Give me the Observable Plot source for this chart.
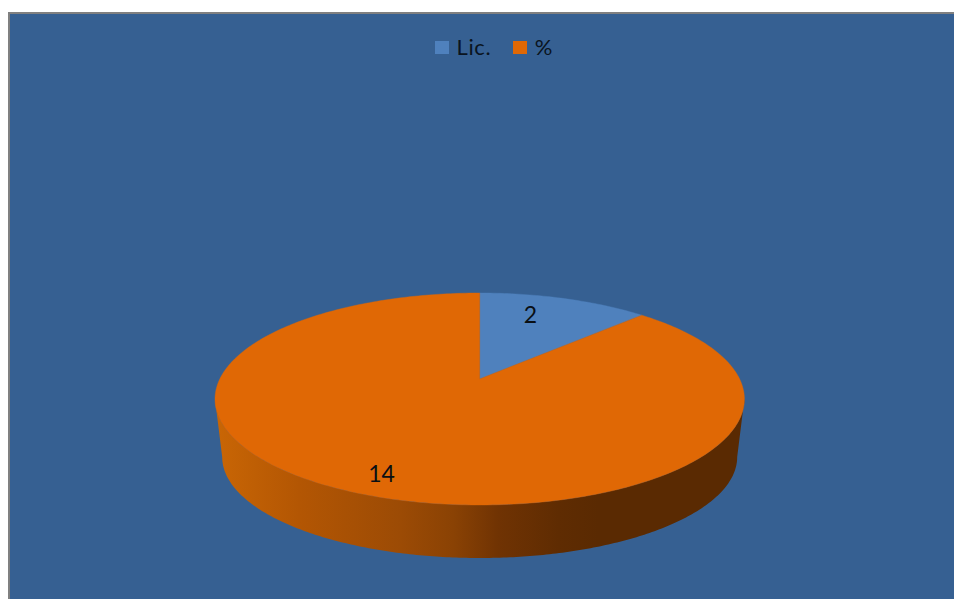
<!DOCTYPE html>
<html>
<head>
<meta charset="utf-8">
<script src="https://cdn.jsdelivr.net/npm/d3@7"></script>
<script src="https://cdn.jsdelivr.net/npm/@observablehq/plot@0.6"></script>
<style>
  html, body { margin: 0; padding: 0; background: #fff; }
  #chart { position: relative; width: 954px; height: 599px; overflow: hidden; }
  #chart svg { display: block; }
  #legend {
    position: absolute; left: 434.5px; top: 34px; display: flex; align-items: center;
    font: 22px Lato, sans-serif; letter-spacing: 0.6px; color: #0a1420; line-height: 26px;
  }
  #legend i { display: inline-block; width: 14.5px; height: 13px; margin-right: 7.5px; }
  #legend span { display: inline-flex; align-items: center; width: 78.2px; }
</style>
</head>
<body>
<div id="chart">
  <div id="legend"></div>
</div>
<script>
// Slices, clockwise from twelve o'clock
const categories = ["Lic.", "%"];
const values = [2, 14];
const sliceColors = ["#4F81BD", "#E06805"];

// Colour of the cylinder wall, running left to right across the disc
const wallStops = [-1, -0.68, -0.3, -0.1, 0.07, 0.3, 0.45, 1];
const wallShades = ["#C96605", "#B35603", "#9C4B05", "#8A4204", "#703303", "#5F2C02", "#5A2A02", "#5A2A02"];

// Tilted disc: top face and the smaller bottom face, in top-face radii
const tilt = 20 / 106;             // how far the hub sits behind the ellipse centre
const bottomFace = {rx: 257.5 / 264.7, ry: 101 / 106, cy: -58 / 106};

// Perspective view of a point on the unit disc
function project(u, v) {
  const w = 1 + tilt * v;
  return [u * Math.sqrt(1 - tilt * tilt) / w, (v + tilt) / w];
}

// Top-face wedges as fans from the hub to the rim
const pie = d3.pie().sort(null)(values);
const hub = project(0, 0);
const wedges = pie.flatMap((s, i) => {
  const steps = Math.max(2, Math.ceil((s.endAngle - s.startAngle) * 60));
  return d3.range(steps + 1).map((k) => {
    const a = s.startAngle + (s.endAngle - s.startAngle) * k / steps;
    const [x, y] = project(Math.sin(a), Math.cos(a));
    return {category: categories[i], hx: hub[0], hy: hub[1], x, y};
  });
});

// Front wall: the band between the front arcs of the two faces
const wallRows = d3.range(241).map((i) => {
  const a = Math.PI + Math.PI * i / 240;
  return {
    x1: Math.cos(a),
    y1: Math.sin(a),
    x2: bottomFace.rx * Math.cos(a),
    y2: bottomFace.cy + bottomFace.ry * Math.sin(a)
  };
});

// Horizontal shading for the wall, declared alongside the marks
function wallGradient() {
  const g = d3.create("svg:linearGradient").attr("id", "wallShade");
  wallStops.forEach((s, i) => {
    g.append("stop").attr("offset", (s + 1) / 2).attr("stop-color", wallShades[i]);
  });
  const defs = d3.create("svg:defs");
  defs.append(() => g.node());
  return defs.node();
}

// Value labels sit inside their slices
const labelNudge = [{da: -5.1, r: 0.73}, {da: -0.5, r: 0.861}];
const labels = pie.map((s, i) => {
  const a = (s.startAngle + s.endAngle) / 2 + labelNudge[i].da * Math.PI / 180;
  const [x, y] = project(labelNudge[i].r * Math.sin(a), labelNudge[i].r * Math.cos(a));
  return {x, y, text: String(values[i])};
});

// Scale helpers for the panel edges, given in page pixels
const toX = (px) => (px - 479.7) / 264.7;
const toY = (px) => (399 - px) / 106;

const plot = Plot.plot({
  width: 954,
  height: 599,
  margin: 0,
  x: {domain: [toX(0), toX(954)], range: [0, 954], axis: null},
  y: {domain: [toY(0), toY(599)], range: [0, 599], axis: null},
  style: {background: "#ffffff", overflow: "hidden"},
  marks: [
    wallGradient,
    Plot.rect([{}], {
      x1: () => toX(9), x2: () => toX(970), y1: () => toY(13), y2: () => toY(620),
      fill: "#366092", stroke: "#808080", strokeWidth: 2
    }),
    Plot.area(wallRows, {
      x1: "x1", y1: "y1", x2: "x2", y2: "y2",
      fill: "url(#wallShade)"
    }),
    ...categories.map((c, i) => Plot.area(wedges.filter((d) => d.category === c), {
      x1: "hx", y1: "hy", x2: "x", y2: "y",
      fill: sliceColors[i], stroke: sliceColors[i], strokeWidth: 0.4
    })),
    Plot.text(labels, {
      x: "x", y: "y", text: "text", dy: -1,
      fontSize: 23, fontFamily: "Lato, sans-serif", fill: "#0a0f14",
      style: {letterSpacing: "0.8px"}
    })
  ]
});

const chart = document.getElementById("chart");
chart.insertBefore(plot, chart.firstChild);

// Legend overlaid on the panel
const legend = d3.select("#legend");
categories.forEach((c, i) => {
  const item = legend.append("span");
  item.append("i").style("background", sliceColors[i]);
  item.append("b").style("font-weight", "normal").text(c);
});
</script>
</body>
</html>
